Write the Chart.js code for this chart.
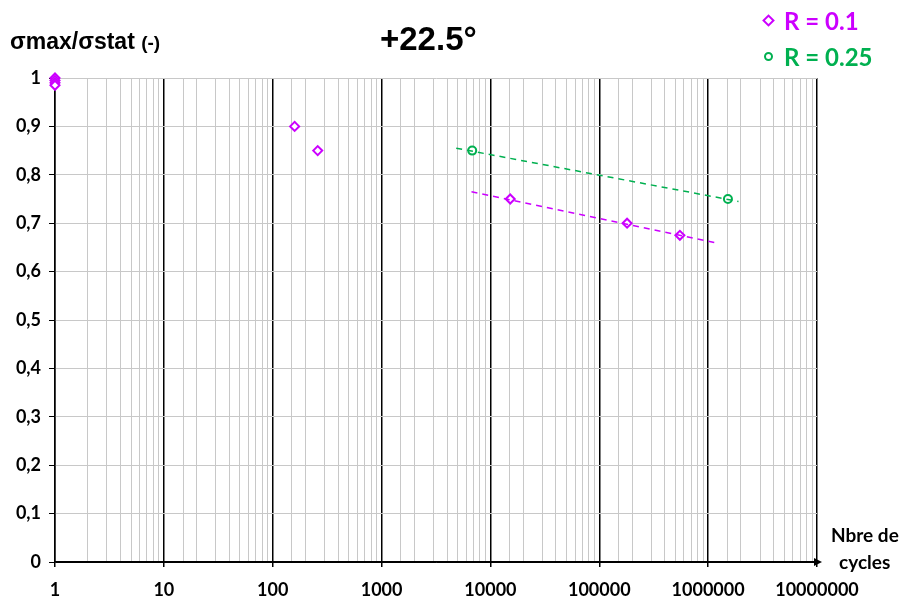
<!DOCTYPE html>
<html>
<head>
<meta charset="utf-8">
<script src="https://cdn.jsdelivr.net/npm/chart.js@4"></script>
<style>
  body{margin:0;background:#fff;}
  #wrap{position:relative;width:906px;height:597px;}
  .t{position:absolute;font-weight:bold;white-space:nowrap;}
  #ytitle{left:10px;top:28px;font-family:"Liberation Sans",Arial,sans-serif;font-size:23px;color:#000;}
  #ytitle small{font-size:19px;}
  #title{left:380px;top:20px;font-family:"Liberation Sans",Arial,sans-serif;font-size:33px;color:#000;}
  .leg{font-family:Lato,"Open Sans",sans-serif;font-size:24px;}
  #leg1{left:764px;top:6px;color:#cc00ff;}
  #leg2{left:764px;top:42px;color:#00b050;}
  .dia{display:inline-block;width:5px;height:5px;border:2px solid #cc00ff;transform:rotate(45deg);margin-right:11px;vertical-align:5px;}
  .cir{display:inline-block;width:5px;height:5px;border:2px solid #00b050;border-radius:50%;margin-right:11px;vertical-align:5px;}
  .xt{font-family:Lato,"Open Sans",sans-serif;font-size:19px;color:#000;}
</style>
</head>
<body>
<div id="wrap">
  <canvas id="c" width="906" height="597"></canvas>
  <div class="t" id="ytitle">σmax/σstat <small>(-)</small></div>
  <div class="t" id="title">+22.5°</div>
  <div class="t leg" id="leg1"><span class="dia"></span>R = 0.1</div>
  <div class="t leg" id="leg2"><span class="cir"></span>R = 0.25</div>
  <div class="t xt" style="left:831px;top:523px;">Nbre de</div>
  <div class="t xt" style="left:839px;top:550px;">cycles</div>
</div>
<script>
// data
const r01Cycles = [1, 1, 1, 1, 159, 259, 15200, 180000, 550000];
const r01Ratio = [1.0, 0.995, 0.99, 0.985, 0.90, 0.85, 0.75, 0.70, 0.675];
const r025Cycles = [6800, 1520000];
const r025Ratio = [0.85, 0.75];

// trend lines (end points)
const r01TrendCycles = [6700, 1150000];
const r01TrendRatio = [0.765, 0.66];
const r025TrendCycles = [4850, 1900000];
const r025TrendRatio = [0.855, 0.745];

const xTickLabels = ["1","10","100","1000","10000","100000","1000000","10000000"];

const MAG = "#cc00ff";
const GRN = "#00b050";

const pts = (xs, ys) => xs.map((x,i)=>({x, y: ys[i]}));
const isMajor = v => Math.abs(Math.log10(v) - Math.round(Math.log10(v))) < 1e-9;

// arrow at end of x axis
const arrow = {
  id: "arrow",
  afterDraw(chart){
    const {ctx, chartArea:a} = chart;
    ctx.save();
    ctx.fillStyle = "#000";
    ctx.beginPath();
    ctx.moveTo(a.right + 5, a.bottom);
    ctx.lineTo(a.right - 3, a.bottom - 4);
    ctx.lineTo(a.right - 3, a.bottom + 4);
    ctx.closePath();
    ctx.fill();
    ctx.restore();
  }
};

new Chart(document.getElementById("c"), {
  type: "scatter",
  data: {
    datasets: [
      { data: pts(r01TrendCycles, r01TrendRatio), type: "line", showLine: true, borderColor: MAG, borderWidth: 1.5, borderDash: [6,5], pointRadius: 0 },
      { data: pts(r025TrendCycles, r025TrendRatio), type: "line", showLine: true, borderColor: GRN, borderWidth: 1.5, borderDash: [6,5], pointRadius: 0 },
      { label: "R = 0.1", data: pts(r01Cycles, r01Ratio), clip: false, pointStyle: "rectRot", pointRadius: 4.5, borderColor: MAG, backgroundColor: "#fff", borderWidth: 2 },
      { label: "R = 0.25", data: pts(r025Cycles, r025Ratio), clip: false, pointStyle: "circle", pointRadius: 4, borderColor: GRN, backgroundColor: "#fff", borderWidth: 2 }
    ]
  },
  options: {
    responsive: false,
    animation: false,
    layout: { padding: { top: 78, right: 89, left: 0, bottom: 0 } },
    plugins: { legend: { display: false }, tooltip: { enabled: false } },
    scales: {
      x: {
        type: "logarithmic",
        min: 1, max: 10000000,
        afterFit: s => { s.height = 35; },
        border: { color: "#000", width: 1.5 },
        grid: {
          color: c => c.tick && isMajor(c.tick.value) ? "#000" : "#c8c8c8",
          lineWidth: c => c.tick && isMajor(c.tick.value) ? 1.5 : 1,
          tickColor: c => c.tick && isMajor(c.tick.value) ? "#000" : "rgba(0,0,0,0)",
          tickLength: 5
        },
        ticks: {
          autoSkip: false, maxRotation: 0, padding: 12,
          font: { family: "Lato", size: 18, weight: "bold" }, color: "#000",
          callback: v => isMajor(v) ? xTickLabels[Math.round(Math.log10(v))] : ""
        }
      },
      y: {
        min: 0, max: 1,
        afterFit: s => { s.width = 55; },
        border: { color: "#000", width: 1.5 },
        grid: { color: c => c.tick && c.tick.value === 0 ? "#000" : "#c8c8c8", tickColor: "#000", tickLength: 6 },
        ticks: {
          stepSize: 0.1, padding: 8,
          font: { family: "Lato", size: 18, weight: "bold" }, color: "#000",
          callback: v => String(Math.round(v*10)/10).replace(".", ",")
        }
      }
    }
  },
  plugins: [arrow]
});
</script>
</body>
</html>
